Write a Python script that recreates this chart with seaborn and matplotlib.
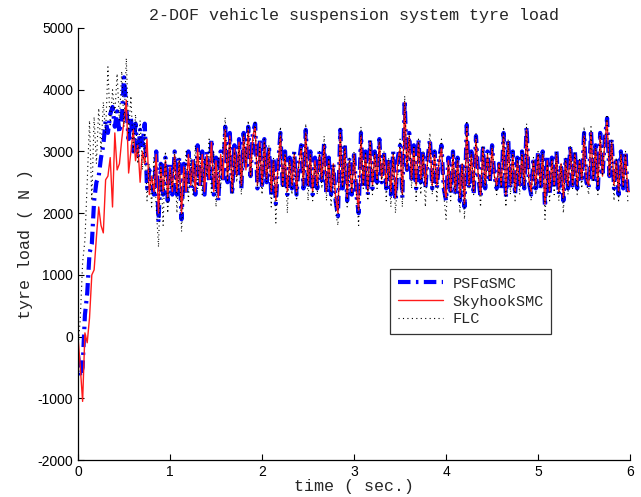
import numpy as np
import pandas as pd
import seaborn as sns
import matplotlib
matplotlib.use("Agg")
import matplotlib.pyplot as plt

# time grid (s), step 0.025 s
time = np.arange(241) * 0.025

psf_smc = [
    -300, -650, -500, 350, 700, 1350, 1500, 2200, 2500, 2600, 2900, 3100, 3500, 3300, 3600, 3720, 3400,
    3650, 3300, 3500, 4200, 3700, 3200, 3550, 3000, 3450, 2900, 3350, 3100, 3450, 2400, 2700, 2500,
    2300, 3000, 1850, 2800, 2300, 2900, 2200, 2800,
    2300, 3000, 2300, 2900, 1900, 2800, 2300, 3000, 2400, 2900,
    2300, 3100, 2400, 3000, 2300, 3000, 2500, 3200, 2300, 2900,
    2200, 3000, 2500, 3400, 2500, 3300, 2300, 3100, 2600, 3200,
    2400, 3300, 2700, 3400, 2600, 3300, 3450, 2400, 3200, 2400,
    3200, 2500, 3100, 2300, 2900, 2150, 2800, 3300, 2400, 3000,
    2300, 2900, 2400, 3000, 2300, 2800, 3100, 2400, 3350, 2400,
    3000, 2300, 2900, 2400, 3000, 2500, 3150, 2300, 2900, 2300,
    2800, 2200, 1950, 3350, 2400, 3100, 2200, 2900, 2300, 3000,
    2300, 2000, 3300, 2400, 3000, 2300, 3200, 2400, 3000, 2500,
    3200, 2500, 3000, 2400, 2900, 2300, 3000, 2200, 2900, 3100,
    2250, 3830, 2700, 3300, 2500, 3100, 2400, 3200, 2500, 3000,
    2400, 2900, 3200, 2400, 3000, 2400, 2900, 3100, 2400, 2200,
    2900, 2300, 3000, 2300, 2900, 2200, 2800, 2100, 3430, 2400,
    3000, 2300, 3250, 2600, 2250, 3100, 2400, 3000, 2500, 3100,
    2600, 2400, 2800, 2400, 3300, 2250, 3200, 2400, 3000, 2300,
    2900, 2400, 3000, 2400, 3400, 2500, 2300, 2900, 2400, 3000,
    2400, 3000, 2100, 2900, 2300, 2900, 2400, 3000, 2300, 2800,
    2200, 2900, 2400, 3100, 2400, 3000, 2400, 2900, 2500, 3300,
    2500, 2400, 3350, 2500, 3100, 2400, 3300, 2600, 3200, 3540,
    2600, 3200, 2400, 2900, 2300, 3000, 2400, 3000, 2300, 2300,
]

skyhook_smc = [
    0, -500, -1050, 60, -100, 300, 1000, 1080, 1610, 2100, 1800, 1680, 2540, 2600, 2900, 2100, 3300,
    2700, 2800, 3190, 3500, 3830, 2650, 3000, 3350, 2850, 3100, 2500, 3000, 2800, 3200, 2300, 2600,
    2350, 2950, 2000, 2750, 2350, 2850, 2250, 2750,
    2350, 2950, 2350, 2850, 2000, 2750, 2350, 2950, 2450, 2850,
    2350, 3050, 2450, 2950, 2350, 2950, 2550, 3150, 2350, 2850,
    2250, 2950, 2550, 3350, 2550, 3250, 2350, 3050, 2600, 3150,
    2450, 3250, 2700, 3350, 2600, 3250, 3400, 2450, 3150, 2450,
    3150, 2550, 3050, 2350, 2850, 2200, 2800, 3250, 2450, 2950,
    2350, 2850, 2450, 2950, 2350, 2800, 3050, 2450, 3300, 2450,
    2950, 2350, 2850, 2450, 2950, 2550, 3100, 2350, 2850, 2350,
    2800, 2250, 2000, 3300, 2450, 3050, 2250, 2850, 2350, 2950,
    2350, 2050, 3250, 2450, 2950, 2350, 3150, 2450, 2950, 2550,
    3150, 2550, 2950, 2450, 2850, 2350, 2950, 2250, 2850, 3050,
    2300, 3800, 2700, 3250, 2550, 3050, 2450, 3150, 2550, 2950,
    2450, 2850, 3150, 2450, 2950, 2450, 2850, 3050, 2450, 2250,
    2850, 2350, 2950, 2350, 2850, 2250, 2800, 2150, 3400, 2450,
    2950, 2350, 3200, 2600, 2300, 3050, 2450, 2950, 2550, 3050,
    2600, 2450, 2800, 2450, 3250, 2300, 3150, 2450, 2950, 2350,
    2850, 2450, 2950, 2450, 3350, 2550, 2350, 2850, 2450, 2950,
    2450, 2950, 2150, 2850, 2350, 2850, 2450, 2950, 2350, 2800,
    2250, 2850, 2450, 3050, 2450, 2950, 2450, 2850, 2550, 3250,
    2550, 2450, 3300, 2550, 3050, 2450, 3250, 2600, 3150, 3500,
    2600, 3150, 2450, 2850, 2350, 2950, 2450, 2950, 2350, 2350,
]

flc = [
    -200, 300, 1200, 1560, 2500, 3500, 2200, 3560, 2800, 3700, 3000, 3800, 3300, 4370, 3400, 4000, 3600,
    4260, 3500, 4300, 3400, 4510, 3300, 3900, 3000, 3600, 2800, 3500, 2700, 3300, 2200, 2800, 2100,
    2900, 2100, 1450, 2800, 1800, 3000, 2000, 2700,
    2400, 3000, 2000, 2900, 1700, 2400, 3000, 2200, 2900, 2300,
    3100, 2400, 3000, 2300, 2900, 2600, 3200, 2300, 3000, 2100,
    2900, 2400, 3100, 3550, 2500, 3200, 2300, 3000, 2500, 3100,
    2300, 3300, 2800, 3500, 2600, 3100, 3500, 2400, 3100, 2300,
    3200, 2500, 3100, 2100, 2900, 1840, 2800, 3400, 2400, 3000,
    2000, 2900, 2300, 3000, 2200, 2800, 3100, 2400, 3450, 2200,
    3000, 2200, 2800, 2300, 3000, 2400, 3250, 2200, 2900, 2100,
    2800, 2000, 1800, 3400, 2400, 3100, 2100, 2900, 2300, 3000,
    2300, 1800, 3400, 2400, 3000, 2200, 3200, 2300, 3000, 2400,
    3200, 2500, 3000, 2200, 2900, 2100, 3000, 2000, 2600, 3200,
    2100, 3900, 2700, 3300, 2400, 3100, 2200, 3200, 2300, 3000,
    2100, 2900, 3300, 2300, 3000, 2200, 2900, 3200, 2300, 1900,
    2800, 2200, 3000, 2300, 2900, 2000, 2800, 1900, 3500, 2400,
    3000, 2300, 3300, 2600, 2100, 3100, 2400, 3000, 2500, 3100,
    2600, 2300, 2800, 2400, 3400, 2100, 3200, 2300, 3000, 2200,
    2900, 2300, 3000, 2400, 3450, 2500, 2200, 2900, 2300, 3000,
    2400, 3000, 1900, 2800, 2200, 2900, 2300, 3000, 2200, 2800,
    2000, 2900, 2300, 3100, 2400, 3000, 2300, 2900, 2400, 3400,
    2500, 2300, 3400, 2500, 3100, 2300, 3300, 2600, 3200, 3600,
    2600, 3200, 2200, 2900, 2200, 3000, 2400, 3000, 2200, 2200,
]

series_names = ["PSF\u03b1SMC", "SkyhookSMC", "FLC"]
x_ticks = [0, 1, 2, 3, 4, 5, 6]
y_ticks = [-2000, -1000, 0, 1000, 2000, 3000, 4000, 5000]

sns.set_style("ticks")
plt.rcParams["font.family"] = ["Liberation Sans", "DejaVu Sans"]
plt.rcParams["axes.unicode_minus"] = False

fig = plt.figure(figsize=(6.41, 4.97), dpi=100)
ax = fig.add_axes([0.1217, 0.0744, 0.8613, 0.8693])

mono = ["Liberation Mono", "DejaVu Sans Mono"]

sns.lineplot(x=time, y=psf_smc, ax=ax, color="#0000ff", linewidth=3.0,
             linestyle=(0, (3, 1.3, 0.6, 1.3)), label=series_names[0],
             estimator=None, sort=False)
sns.lineplot(x=time, y=skyhook_smc, ax=ax, color="#ff1a1a", linewidth=1.0,
             label=series_names[1], estimator=None, sort=False)
sns.lineplot(x=time, y=flc, ax=ax, color="black", linewidth=0.8,
             linestyle=(0, (1, 3)), label=series_names[2],
             estimator=None, sort=False)

ax.set_xlim(0, 6)
ax.set_ylim(-2000, 5000)
ax.set_xticks(x_ticks)
ax.set_yticks(y_ticks)
ax.tick_params(direction="in", length=4, width=0.8, labelsize=10, colors="black")
sns.despine(ax=ax)
for s in ["left", "bottom"]:
    ax.spines[s].set_linewidth(0.9)
    ax.spines[s].set_color("black")

ax.set_title("2-DOF vehicle suspension system tyre load", family=mono, fontsize=12, pad=6)
ax.set_xlabel("time ( sec.)", family=mono, fontsize=12, labelpad=0)
ax.set_ylabel("tyre load ( N )", family=mono, fontsize=12, labelpad=3)

leg = ax.legend(loc="upper left", bbox_to_anchor=(0.565, 0.442), prop={"family": mono, "size": 11},
                frameon=True, fancybox=False, edgecolor="black", handlelength=3.0,
                borderpad=0.5, labelspacing=0.25, handletextpad=0.6, borderaxespad=0)
leg.get_frame().set_linewidth(0.9)

fig.savefig("out.png", dpi=100)
